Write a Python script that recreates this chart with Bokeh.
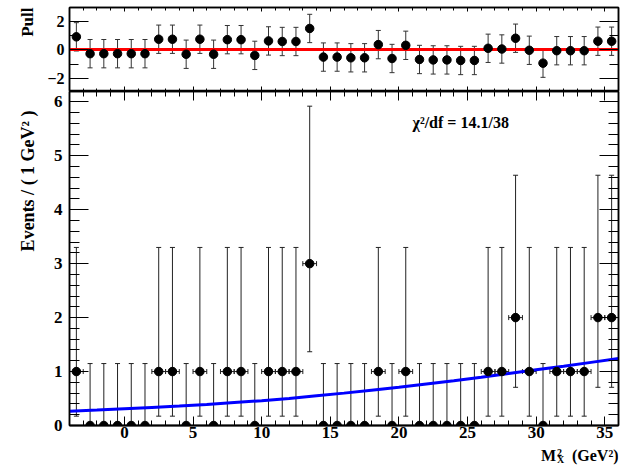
import math
from bokeh.plotting import figure
from bokeh.layouts import column, row
from bokeh.models import (Range1d, LinearAxis, SingleIntervalTicker, CustomJSTickFormatter,
                          Whisker, TeeHead, ColumnDataSource, Label)
from bokeh.embed import file_html
from bokeh.resources import INLINE

# ---------------- data ----------------
bin_center = [-3.5, -2.5, -1.5, -0.5, 0.5, 1.5, 2.5, 3.5, 4.5, 5.5,
              6.5, 7.5, 8.5, 9.5, 10.5, 11.5, 12.5, 13.5, 14.5, 15.5,
              16.5, 17.5, 18.5, 19.5, 20.5, 21.5, 22.5, 23.5, 24.5, 25.5,
              26.5, 27.5, 28.5, 29.5, 30.5, 31.5, 32.5, 33.5, 34.5, 35.5]
counts = [1, 0, 0, 0, 0, 0, 1, 1, 0, 1,
          0, 1, 1, 0, 1, 1, 1, 3, 0, 0,
          0, 0, 1, 0, 1, 0, 0, 0, 0, 0,
          1, 1, 2, 1, 0, 1, 1, 1, 2, 2]
# lower / upper ends of the (Poisson) error bars
err_low = [0.173, 0, 0, 0, 0, 0, 0.173, 0.173, 0, 0.173,
           0, 0.173, 0.173, 0, 0.173, 0.173, 0.173, 1.367, 0, 0,
           0, 0, 0.173, 0, 0.173, 0, 0, 0, 0, 0,
           0.173, 0.173, 0.708, 0.173, 0, 0.173, 0.173, 0.173, 0.708, 0.708]
err_high = [3.300, 1.148, 1.148, 1.148, 1.148, 1.148, 3.300, 3.300, 1.148, 3.300,
            1.148, 3.300, 3.300, 1.148, 3.300, 3.300, 3.300, 5.918, 1.148, 1.148,
            1.148, 1.148, 3.300, 1.148, 3.300, 1.148, 1.148, 1.148, 1.148, 1.148,
            3.300, 3.300, 4.638, 3.300, 1.148, 3.300, 3.300, 3.300, 4.638, 4.638]
pulls = [0.93, -0.26, -0.26, -0.26, -0.26, -0.26, 0.76, 0.76, -0.30, 0.76,
         -0.30, 0.73, 0.73, -0.38, 0.64, 0.60, 0.60, 1.52, -0.50, -0.50,
         -0.55, -0.55, 0.38, -0.60, 0.33, -0.67, -0.70, -0.70, -0.74, -0.74,
         0.12, 0.07, 0.83, -0.02, -0.93, -0.05, -0.05, -0.05, 0.62, 0.62]
fit_x = [-4, -2, 0, 2, 4, 6, 8, 10, 12, 14, 16, 18, 20, 22, 24, 26, 28, 30, 32, 34, 36]
fit_y = [0.265, 0.285, 0.31, 0.335, 0.36, 0.39, 0.425, 0.46, 0.50, 0.55, 0.60,
         0.655, 0.71, 0.77, 0.83, 0.895, 0.965, 1.035, 1.10, 1.17, 1.24]
x_ticks_major = 5
chi2_text = "χ²/df = 14.1/38"

FONT = "Liberation Serif"
LEFT = 29     # left border of the panels (the title strip is 40 px wide)
RIGHT = 2
PW = 580      # panel width


def style_axis(ax, major_in, minor_in, labels=True, size="17px", standoff=6):
    ax.major_tick_in = major_in
    ax.major_tick_out = 0
    ax.minor_tick_in = minor_in
    ax.minor_tick_out = 0
    ax.axis_line_color = "black"
    ax.axis_line_width = 1.5
    ax.major_tick_line_color = "black"
    ax.minor_tick_line_color = "black"
    if labels:
        ax.major_label_text_font = FONT
        ax.major_label_text_font_style = "bold"
        ax.major_label_text_font_size = size
        ax.major_label_text_color = "black"
        ax.major_label_standoff = standoff
    else:
        ax.formatter = CustomJSTickFormatter(code="return ''")
        ax.major_label_text_font_size = "1px"
        ax.major_label_standoff = 0


def txt(**kw):
    base = dict(text_font=FONT, text_font_style="bold", text_color="black")
    base.update(kw)
    return Label(**base)


x_range = Range1d(-4, 36)

# ---------------- left strip for the rotated y titles ----------------
strip = figure(width=40, height=465, x_range=Range1d(0, 40), y_range=Range1d(0, 465),
               output_backend="svg", toolbar_location=None,
               x_axis_location=None, y_axis_location=None, min_border=0)
strip.grid.visible = False
strip.outline_line_color = None
strip.add_layout(txt(x=27, y=458, text="Pull", angle=math.pi / 2, text_align="right",
                     text_baseline="middle", text_font_size="17px"))
strip.add_layout(txt(x=27, y=355, text="Events / ( 1 GeV² )", angle=math.pi / 2,
                     text_align="right", text_baseline="middle", text_font_size="18px"))

# ---------------- pull panel ----------------
p1 = figure(width=PW, height=91, x_range=x_range, y_range=Range1d(-2.93, 3.0),
            output_backend="svg", toolbar_location=None,
            min_border_left=LEFT, min_border_right=RIGHT, min_border_top=7, min_border_bottom=0)
p1.grid.visible = False
p1.outline_line_color = "black"
p1.outline_line_width = 1.5
p1.xaxis.ticker = SingleIntervalTicker(interval=x_ticks_major, num_minor_ticks=5)
style_axis(p1.xaxis[0], 5, 3, labels=False)
p1.yaxis.ticker = SingleIntervalTicker(interval=2, num_minor_ticks=2)
p1.yaxis.major_label_overrides = {-2: "−2"}
style_axis(p1.yaxis[0], 19, 9, size="16px", standoff=5)
ax = LinearAxis(ticker=SingleIntervalTicker(interval=2, num_minor_ticks=2))
style_axis(ax, 19, 9, labels=False)
p1.add_layout(ax, "right")
ax = LinearAxis(ticker=SingleIntervalTicker(interval=x_ticks_major, num_minor_ticks=5))
style_axis(ax, 4, 3, labels=False)
p1.add_layout(ax, "above")

psrc = ColumnDataSource(dict(x=bin_center, y=pulls,
                             lo=[v - 1.0 for v in pulls], hi=[v + 1.0 for v in pulls]))
p1.add_layout(Whisker(source=psrc, base="x", lower="lo", upper="hi", dimension="height",
                      line_color="#333333", line_width=1, level="underlay",
                      upper_head=TeeHead(size=5, line_color="#333333", line_width=1),
                      lower_head=TeeHead(size=5, line_color="#333333", line_width=1)))
p1.hspan(y=[0], line_color="#ff0000", line_width=3)
p1.scatter("x", "y", source=psrc, size=8.5, color="black")

# ---------------- main panel ----------------
p2 = figure(width=PW, height=354, x_range=x_range, y_range=Range1d(0, 6.19),
            output_backend="svg", toolbar_location=None,
            min_border_left=LEFT, min_border_right=RIGHT, min_border_top=0, min_border_bottom=20)
p2.grid.visible = False
p2.outline_line_color = "black"
p2.outline_line_width = 1.5
p2.xaxis.ticker = SingleIntervalTicker(interval=x_ticks_major, num_minor_ticks=5)
style_axis(p2.xaxis[0], 9, 5, size="17px", standoff=1)
p2.xaxis.axis_line_width = 2
p2.yaxis.ticker = SingleIntervalTicker(interval=1, num_minor_ticks=5)
style_axis(p2.yaxis[0], 19, 10, size="17px", standoff=7)
ax = LinearAxis(ticker=SingleIntervalTicker(interval=1, num_minor_ticks=5))
style_axis(ax, 19, 10, labels=False)
p2.add_layout(ax, "right")
ax = LinearAxis(ticker=SingleIntervalTicker(interval=x_ticks_major, num_minor_ticks=5))
style_axis(ax, 9, 5, labels=False)
p2.add_layout(ax, "above")

dsrc = ColumnDataSource(dict(x=bin_center, y=counts, lo=err_low, hi=err_high))
nz = [i for i, c in enumerate(counts) if c > 0]
hsrc = ColumnDataSource(dict(y=[counts[i] for i in nz],
                             xl=[bin_center[i] - 0.5 for i in nz],
                             xr=[bin_center[i] + 0.5 for i in nz]))
p2.add_layout(Whisker(source=dsrc, base="x", lower="lo", upper="hi", dimension="height",
                      line_color="#222222", line_width=1, level="underlay",
                      upper_head=TeeHead(size=5, line_color="#222222", line_width=1),
                      lower_head=TeeHead(size=5, line_color="#222222", line_width=1)))
p2.add_layout(Whisker(source=hsrc, base="y", lower="xl", upper="xr", dimension="width",
                      line_color="#222222", line_width=1, level="underlay",
                      upper_head=TeeHead(size=5, line_color="#222222", line_width=1),
                      lower_head=TeeHead(size=5, line_color="#222222", line_width=1)))
p2.line(fit_x, fit_y, line_color="#0000ff", line_width=3)
p2.scatter("x", "y", source=dsrc, size=8.5, color="black")
p2.add_layout(txt(x=20.99, y=5.61, text=chi2_text, text_align="left", text_baseline="middle",
                  text_font_size="16px"))

# ---------------- strip with the x-axis title ----------------
p3 = figure(width=PW, height=20, x_range=x_range, y_range=Range1d(0, 20),
            output_backend="svg", toolbar_location=None,
            x_axis_location=None, y_axis_location=None,
            min_border_left=LEFT, min_border_right=RIGHT, min_border_top=0, min_border_bottom=0)
p3.grid.visible = False
p3.outline_line_color = None
p3.add_layout(txt(x=30.36, y=9.9, text="M", text_align="left", text_baseline="middle",
                  text_font_size="16px"))
p3.add_layout(txt(x=31.52, y=13.4, text="2", text_align="left", text_baseline="middle",
                  text_font_size="10px"))
p3.add_layout(txt(x=31.52, y=5.9, text="X", text_align="left", text_baseline="middle",
                  text_font_size="10px"))
p3.add_layout(txt(x=36.0, y=9.9, text="(GeV²)", text_align="right", text_baseline="middle",
                  text_font_size="16px"))

layout = row(strip, column(p1, p2, p3, spacing=0), spacing=0)
open("out.html", "w").write(file_html(layout, INLINE))
